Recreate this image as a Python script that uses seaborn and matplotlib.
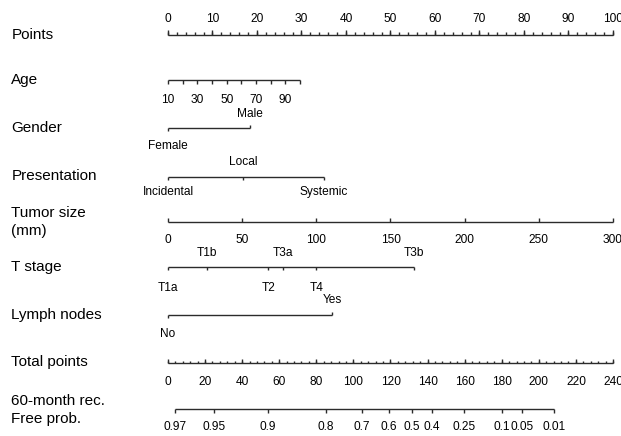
import numpy as np
import matplotlib
matplotlib.use("Agg")
import matplotlib.pyplot as plt
import seaborn as sns

# ---------------------------------------------------------------------------
# Data (positions are in "Points" units, 0-100)
# ---------------------------------------------------------------------------
points_ticks = list(range(0, 101, 10))

age_values = [10, 20, 30, 40, 50, 60, 70, 80, 90, 100]
age_labels = [10, 30, 50, 70, 90]
age_max_points = 29.7          # points given to age 100

gender_levels = ["Female", "Male"]
gender_points = [0.0, 18.4]

presentation_levels = ["Incidental", "Local", "Systemic"]
presentation_points = [0.0, 16.9, 35.0]

tumor_ticks = [0, 50, 100, 150, 200, 250, 300]
tumor_max_points = 100.0       # points given to 300 mm

tstage_levels = ["T1a", "T1b", "T2", "T3a", "T4", "T3b"]
tstage_points = [0.0, 8.7, 22.5, 25.8, 33.3, 55.3]
tstage_above = [False, True, False, True, False, True]

lymph_levels = ["No", "Yes"]
lymph_points = [0.0, 36.9]

total_ticks = list(range(0, 241, 20))
total_max = 240

prob_labels = ["0.97", "0.95", "0.9", "0.8", "0.7", "0.6", "0.5", "0.4",
               "0.25", "0.1", "0.05", "0.01"]
prob_total_points = [3.8, 24.8, 54.0, 85.0, 104.5, 119.0, 131.4, 142.4,
                     159.7, 180.2, 191.0, 208.2]

row_names = ["Points", "Age", "Gender", "Presentation", "Tumor size\n(mm)",
             "T stage", "Lymph nodes", "Total points", "60-month rec.\nFree prob."]

# ---------------------------------------------------------------------------
# Plot
# ---------------------------------------------------------------------------
sns.set_theme(style="white")
plt.rcParams["font.family"] = ["Liberation Sans", "DejaVu Sans"]

fig = plt.figure(figsize=(6.21, 4.36), dpi=100)
ax = fig.add_axes([0, 0, 1, 1])
ax.set_xlim(-37.75, 101.8)
ax.set_ylim(436, 0)
ax.axis("off")

LC = "#2b2b2b"
LW = 1.0
TFS = 8.6
LFS = 11


def axis_line(x0, x1, y):
    ax.hlines(y, x0, x1, color=LC, lw=LW)


def ticks(xs, y, length):
    ax.vlines(xs, y, y + length, color=LC, lw=LW)


def label(x, y, s):
    ax.text(x, y, s, ha="center", va="center", fontsize=TFS, color="black")


# Row labels
label_y = [35, 80, 128, 176, 222, 267, 315, 362, 410]
for name, y in zip(row_names, label_y):
    ax.text(-35.2, y, name, ha="left", va="center", fontsize=LFS,
            color="black", linespacing=1.4)

# Points
y = 35
axis_line(0, 100, y)
ticks(np.arange(0, 101, 2), y, -2.5)
ticks(points_ticks, y, -5)
for p in points_ticks:
    label(p, 19, str(p))

# Age
y = 80
age_pts = [(a - age_values[0]) / (age_values[-1] - age_values[0]) * age_max_points
           for a in age_values]
axis_line(0, age_pts[-1], y)
ticks(age_pts, y, 4)
for a in age_labels:
    label((a - age_values[0]) / (age_values[-1] - age_values[0]) * age_max_points,
          100, str(a))

# Gender
y = 128
axis_line(gender_points[0], gender_points[-1], y)
ticks([gender_points[0]], y, 3)
ticks([gender_points[1]], y, -3)
label(gender_points[0], 146, gender_levels[0])
label(gender_points[1], 114, gender_levels[1])

# Presentation
y = 177
axis_line(presentation_points[0], presentation_points[-1], y)
ticks(presentation_points, y, 3)
label(presentation_points[0], 192, presentation_levels[0])
label(presentation_points[1], 162, presentation_levels[1])
label(presentation_points[2], 192, presentation_levels[2])

# Tumor size
y = 222
tumor_pts = [t / tumor_ticks[-1] * tumor_max_points for t in tumor_ticks]
axis_line(0, tumor_pts[-1], y)
ticks(tumor_pts, y, -4)
for t, p in zip(tumor_ticks, tumor_pts):
    label(p, 240, str(t))

# T stage
y = 267
axis_line(tstage_points[0], tstage_points[-1], y)
ticks(tstage_points, y, 3)
for lev, p, up in zip(tstage_levels, tstage_points, tstage_above):
    label(p, 253 if up else 288, lev)

# Lymph nodes
y = 315
axis_line(lymph_points[0], lymph_points[-1], y)
ticks([lymph_points[0]], y, 3)
ticks([lymph_points[1]], y, -3)
label(lymph_points[0], 334, lymph_levels[0])
label(lymph_points[1], 300, lymph_levels[1])

# Total points
y = 363
scale = 100 / total_max
axis_line(0, total_max * scale, y)
ticks(np.arange(0, total_max + 1, 4) * scale, y, -2.5)
ticks(np.array(total_ticks) * scale, y, -4)
for t in total_ticks:
    label(t * scale, 382, str(t))

# Probability
y = 409
prob_pts = [t * scale for t in prob_total_points]
axis_line(prob_pts[0], prob_pts[-1], y)
ticks(prob_pts, y, 4)
for s, p in zip(prob_labels, prob_pts):
    label(p, 427, s)

fig.savefig("out.png", dpi=100, facecolor="white")
